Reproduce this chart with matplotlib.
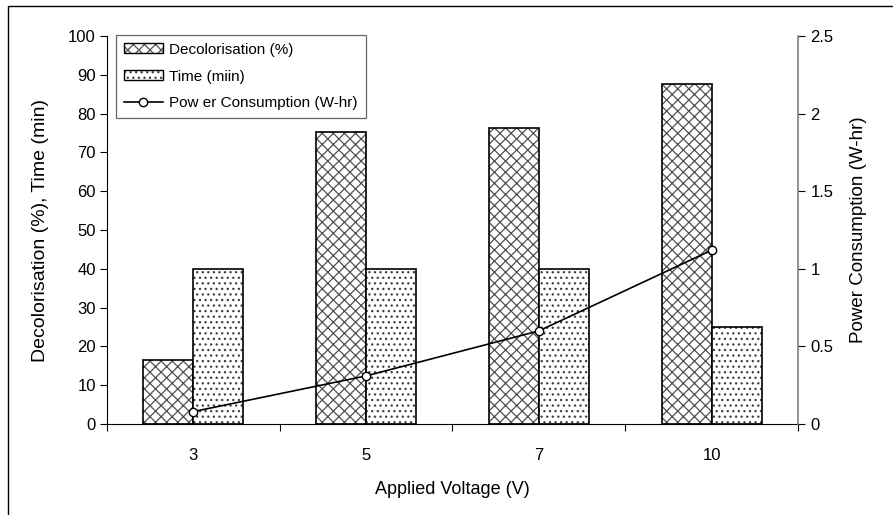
import numpy as np
import matplotlib.pyplot as plt
from matplotlib.patches import Rectangle
from matplotlib.legend_handler import HandlerTuple

plt.rcParams['font.family'] = ['Liberation Sans', 'DejaVu Sans']
plt.rcParams['hatch.linewidth'] = 0.9

# data
voltage = ['3', '5', '7', '10']
decolorisation = [16.5, 75.3, 76.4, 87.6]
time_min = [40, 40, 40, 25]
power = [0.08, 0.31, 0.6, 1.12]

x = np.arange(len(voltage))
w = 0.29
hatch_col = '#505050'

fig = plt.figure(figsize=(8.93, 5.15), dpi=100)
# outer frame (left and top edge visible in the original)
fig.patches.append(Rectangle((8 / 893, -0.1), 1.2, 1 - 6 / 515 + 0.1,
                             transform=fig.transFigure, fill=False,
                             edgecolor='black', linewidth=1.0))

ax = fig.add_axes([0.1198, 0.1767, 0.7738, 0.7533])
# hatch layer (grey) then black outline on top
ax.bar(x - w / 2, decolorisation, w, facecolor='white', edgecolor=hatch_col,
       hatch='xxx', linewidth=0)
ax.bar(x - w / 2, decolorisation, w, fill=False, edgecolor='black', linewidth=1.2)
ax.bar(x + w / 2, time_min, w, facecolor='white', edgecolor='#404040',
       hatch='...', linewidth=0)
ax.bar(x + w / 2, time_min, w, fill=False, edgecolor='black', linewidth=1.2)

ax.set_xlim(-0.5, 3.5)
ax.set_ylim(0, 100)
ax.set_yticks(range(0, 101, 10))
ax.set_xticks(np.arange(-0.5, 3.6, 1))
ax.set_xticklabels([])
ax.set_xticks(x, minor=True)
ax.set_xticklabels(voltage, minor=True)
ax.tick_params(axis='x', which='minor', length=0, pad=17, labelsize=12)
ax.tick_params(axis='x', which='major', length=5, direction='out')
ax.tick_params(axis='y', length=5, direction='out', labelsize=12, pad=3)
ax.spines['top'].set_visible(False)
ax.spines['right'].set_visible(False)
ax.set_xlabel('Applied Voltage (V)', fontsize=13, labelpad=13)
ax.set_ylabel('Decolorisation (%), Time (min)', fontsize=14, labelpad=14)

ax2 = ax.twinx()
ax2.plot(x, power, color='black', linewidth=1.2, marker='o', markersize=6,
         markerfacecolor='white', markeredgecolor='black')
ax2.set_ylim(0, 2.5)
ax2.set_yticks([0, 0.5, 1, 1.5, 2, 2.5])
ax2.set_yticklabels(['0', '0.5', '1', '1.5', '2', '2.5'])
ax2.tick_params(axis='y', length=5, direction='out', labelsize=12, pad=4)
ax2.spines['top'].set_visible(False)
ax2.spines['left'].set_visible(False)
ax2.spines['bottom'].set_visible(False)
ax2.spines['right'].set_color('#808080')
ax2.spines['right'].set_linewidth(1.2)
ax2.set_ylabel('Power Consumption (W-hr)', fontsize=13.5, labelpad=12)

# legend handles
h_dec = (Rectangle((0, 0), 1, 1, facecolor='white', edgecolor=hatch_col, hatch='xxx', linewidth=0),
         Rectangle((0, 0), 1, 1, fill=False, edgecolor='black', linewidth=1.0))
h_time = (Rectangle((0, 0), 1, 1, facecolor='white', edgecolor='#404040', hatch='...', linewidth=0),
          Rectangle((0, 0), 1, 1, fill=False, edgecolor='black', linewidth=1.0))
h_pow = plt.Line2D([], [], color='black', linewidth=1.2, marker='o', markersize=6,
                   markerfacecolor='white', markeredgecolor='black')
leg = ax2.legend([h_dec, h_time, h_pow],
                 ['Decolorisation (%)', 'Time (miin)', 'Pow er Consumption (W-hr)'],
                 handler_map={tuple: HandlerTuple(ndivide=1)},
                 loc='upper left', bbox_to_anchor=(0.013, 1.003), fontsize=11,
                 frameon=True, fancybox=False, edgecolor='#404040',
                 handlelength=2.6, handleheight=0.6, handletextpad=0.4,
                 borderpad=0.5, labelspacing=0.85, borderaxespad=0)
leg.get_frame().set_linewidth(0.9)

fig.savefig('out.png', dpi=100)
